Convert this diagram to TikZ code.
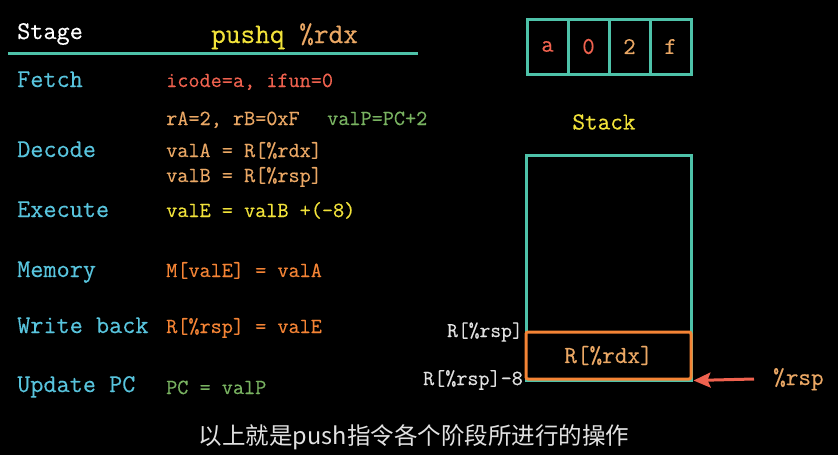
\documentclass[tikz,border=0pt]{standalone}
\usepackage{fontspec}
\setmonofont[FakeBold=0.35]{Latin Modern Mono}
\newfontfamily\cjk{Noto Sans CJK SC}
\usetikzlibrary{arrows.meta, positioning}
\definecolor{mblue}{HTML}{58C4DD}
\definecolor{mteal}{HTML}{4EC2A9}
\definecolor{myellow}{HTML}{F2E33A}
\definecolor{mred}{HTML}{F0624F}
\definecolor{mgold}{HTML}{EBA865}
\definecolor{morange}{HTML}{F58435}
\definecolor{mgreen}{HTML}{79B361}
\definecolor{mgray}{HTML}{E2E2E2}

\begin{document}
\begin{tikzpicture}[x=1pt, y=-1pt, >={Stealth[length=17pt, width=15pt, inset=3pt]},
    stage/.style={anchor=base west, inner sep=0pt, text=mblue, font=\ttfamily\fontsize{25.5}{27}\selectfont},
    code/.style={anchor=base west, inner sep=0pt, font=\ttfamily\fontsize{21.6}{23}\selectfont},
    big/.style={inner sep=0pt, font=\ttfamily\fontsize{24.5}{26}\selectfont},
    cell/.style={draw=mteal, line width=3pt, minimum width=41pt, minimum height=55pt, inner sep=0pt, font=\ttfamily\fontsize{24}{26}\selectfont}]
  \fill[black] (0,0) rectangle (838,455);
  \useasboundingbox (0,0) rectangle (838,455);

  % header
  \node[anchor=base west, inner sep=0pt, text=white, font=\ttfamily\fontsize{25.5}{27}\selectfont] (stagehd) at (17,39) {Stage};
  \node[anchor=base west, inner sep=0pt, font=\ttfamily\fontsize{28.5}{30}\selectfont] (instr) at (211,43) {\textcolor{myellow}{pushq} \textcolor{mgold}{\%rdx}};
  \coordinate (rulel) at (8,53);
  \coordinate (ruler) at (418,53);
  \draw[mteal, line width=3pt] (rulel) -- (ruler);

  % stages
  \foreach \name/\lbl/\y in {fetch/Fetch/87, decode/Decode/157, execute/Execute/217,
      memory/Memory/277, wback/Write back/333, upc/Update PC/392}
    \node[stage] (\name) at (17,\y) {\lbl};

  % what each stage does
  \node[code, text=mred] (icode) at (166,87) {icode=a, ifun=0};
  \node[code, text=mgold] (regs) at (166,125) {rA=2, rB=0xF};
  \node[code, text=mgreen] (valp) at (327,125) {valP=PC+2};
  \node[code, text=mgold] (vala) at (166,157) {valA = R[\%rdx]};
  \node[code, text=mgold] (valb) at (166,182) {valB = R[\%rsp]};
  \node[code, text=myellow] (vale) at (166,217) {valE = valB +(-8)};
  \node[code, text=morange] (mem) at (166,277) {M[valE] = valA};
  \node[code, text=morange] (wb) at (166,333) {R[\%rsp] = valE};
  \node[code, text=mgreen] (pc) at (166,394) {PC = valP};

  % instruction bytes
  \foreach \ch/\col [count=\i] in {a/mred, 0/mred, 2/mgold, f/mgold}
    \node[cell, text=\col] (byte\i) at (506.5+41*\i, 46.5) {\ch};

  % stack
  \node[big, text=myellow] (stacklbl) at (604,122) {Stack};
  \node[draw=mteal, line width=3pt, minimum width=165pt, minimum height=225pt] (stack) at (608.5,267.5) {};
  \node[draw=morange, line width=3pt, rounded corners=2pt, fill=black, minimum width=165pt, minimum height=47pt, big, text=mgold] (slot) at (608.5,355.5) {R[\%rdx]};
  \node[anchor=base east, inner sep=0pt, text=mgray, font=\ttfamily\fontsize{21}{23}\selectfont] (oldrsp) at (523,337) {R[\%rsp]};
  \node[anchor=base east, inner sep=0pt, text=mgray, font=\ttfamily\fontsize{21.5}{23}\selectfont] (newrsp) at (523,385) {R[\%rsp]-8};

  % stack pointer
  \node[anchor=base west, big, text=mgold] (rsp) at (773,385) {\%rsp};
  \coordinate (tail) at (754,379);
  \draw[->, mred, line width=3pt] (tail) -- ([xshift=1pt]slot.south east);

  \node[text=mgray, inner sep=0pt, font=\cjk\fontsize{23.5}{26}\selectfont] (sub) at (414,437) {以上就是push指令各个阶段所进行的操作};
\end{tikzpicture}
\end{document}
